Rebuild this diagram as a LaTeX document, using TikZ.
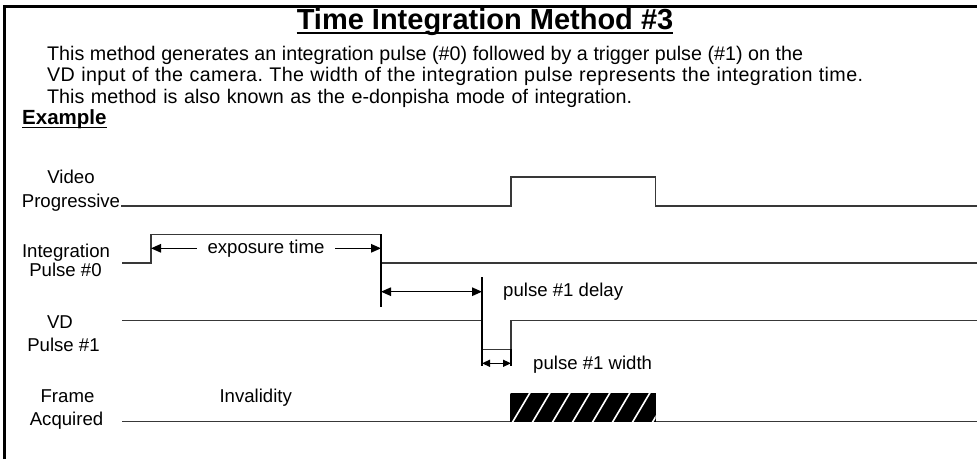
\documentclass[tikz,border=0pt]{standalone}
\usepackage{fontspec}
\setmainfont{Liberation Sans}
\newfontfamily\widerfont[LetterSpace=2]{Liberation Sans}
\usetikzlibrary{arrows.meta}

\begin{document}
\frenchspacing
\begin{tikzpicture}[x=1pt,y=-1pt,
  frame/.style={line width=2.6pt, black},
  sig/.style={line width=1.2pt, black!78},
  ext/.style={line width=1.4pt, black},
  bigtip/.style={{Triangle[length=10pt,width=8.5pt]}-{Triangle[length=10pt,width=8.5pt]}},
  smalltip/.style={{Triangle[length=8pt,width=7pt]}-{Triangle[length=8pt,width=7pt]}},
  dimline/.style={line width=1.3pt, black},
  lbl/.style={anchor=base, inner sep=0pt, font=\fontsize{18.6}{21}\selectfont},
  body/.style={anchor=base west, inner sep=0pt, font=\fontsize{19.7}{22}\selectfont},
]
\useasboundingbox (0,0) rectangle (977,459);

% border: left and top edges only
\draw[frame] (4.5,459) -- (4.5,6.5) -- (977,6.5);

% heading and description
\node[anchor=base, inner sep=0pt, font=\bfseries\fontsize{29}{33}\selectfont] (title) at (485,29)
  {Time Integration Method \#3};
\draw[line width=2pt] (title.base west) ++(0,4.2) -- ([yshift=-4.2pt]title.base east);
\node[body] (l1) at (47,60) {\makebox[756pt][s]{This method generates an integration pulse (\#0) followed by a trigger pulse (\#1) on the}};
\node[body, font=\widerfont\fontsize{19.7}{22}\selectfont] (l2) at (47,81.5) {\makebox[816pt][s]{VD input of the camera. The width of the integration pulse represents the integration time.}};
\node[body] (l3) at (47,103) {\makebox[585pt][s]{This method is also known as the e-donpisha mode of integration.}};
\node[body, font=\bfseries\fontsize{20.5}{23}\selectfont] (ex) at (22,124) {Example};
\draw[line width=1.6pt] (ex.base west) ++(0,3.4) -- ([yshift=-3.4pt]ex.base east);

% signal names
\node[lbl] (vp1) at (71,183) {Video};
\node[lbl] (vp2) at (71,207) {Progressive};
\node[lbl] (ip1) at (66,257) {Integration};
\node[lbl] (ip2) at (65.5,276) {Pulse \#0};
\node[lbl] (vd1) at (60,328) {VD};
\node[lbl] (vd2) at (63.5,351.5) {Pulse \#1};
\node[lbl] (fa1) at (67.5,402) {Frame};
\node[lbl] (fa2) at (66.5,425) {Acquired};
\node[lbl] (inv) at (255.7,402) {Invalidity};

% key time instants
\coordinate (tEnd) at (977,0);
\coordinate (tStart) at (121,0);
\coordinate (tExpA) at (151,0);
\coordinate (tExpB) at (381,0);
\coordinate (tVdA) at (482,0);
\coordinate (tVdB) at (511,0);
\coordinate (tFrB) at (655.5,0);

% Video Progressive
\draw[sig] (tStart |- 0,206) -- (tVdB |- 0,206) -- (tVdB |- 0,177) -- (tFrB |- 0,177)
  -- (tFrB |- 0,206) -- (tEnd |- 0,206);

% Integration pulse #0
\draw[sig] (122,263) -- (tExpA |- 0,263) -- (tExpA |- 0,234.3) -- (tExpB |- 0,234.3)
  -- (tExpB |- 0,263) -- (tEnd |- 0,263);
\draw[ext] (tExpB |- 0,234.3) -- (tExpB |- 0,306.5);

% VD pulse #1
\draw[sig] (122,320.5) -- (tVdA |- 0,320.5) -- (tVdA |- 0,349.3) -- (tVdB |- 0,349.3)
  -- (tVdB |- 0,320.5) -- (tEnd |- 0,320.5);
\draw[ext] (tVdA |- 0,277) -- (tVdA |- 0,365.5);
\draw[ext] (tVdB |- 0,349.3) -- (tVdB |- 0,365.5);

% Frame acquired, with the hatched acquisition window
\draw[sig] (122,421.7) -- (tEnd |- 0,421.7);
\begin{scope}
  \fill[black] (510,392.7) rectangle (655.7,421.7);
  \clip (510,392.7) rectangle (655.7,421.7);
  \foreach \k in {-2,...,8}
    \draw[white, line width=1.6pt] (512+20*\k,423) -- (531+20*\k,391);
\end{scope}

% dimension arrows
\draw[dimline, bigtip] (tExpA |- 0,248.3) -- node[fill=white, inner xsep=11pt, inner ysep=2pt,
  font=\fontsize{18.6}{21}\selectfont] (exp) {exposure time} (tExpB |- 0,248.3);
\draw[dimline, bigtip] (tExpB |- 0,291.7) -- (tVdA |- 0,291.7);
\draw[dimline, smalltip] (tVdA |- 0,363.3) -- (tVdB |- 0,363.3);
\node[anchor=base west, inner sep=0pt, font=\fontsize{18.6}{21}\selectfont] (dly) at (503,296.5) {pulse \#1 delay};
\node[anchor=base west, inner sep=0pt, font=\fontsize{18.6}{21}\selectfont] (wid) at (533,369) {pulse \#1 width};
\end{tikzpicture}
\end{document}
